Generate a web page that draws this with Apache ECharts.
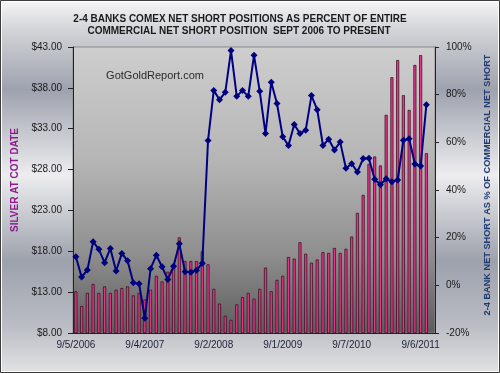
<!DOCTYPE html>
<html>
<head>
<meta charset="utf-8">
<script src="https://cdn.jsdelivr.net/npm/echarts@6/dist/echarts.min.js"></script>
<style>html,body{margin:0;padding:0;background:#fff}#c{width:500px;height:373px}</style>
</head>
<body>
<div id="c"></div>
<script>
// Month categories Sep 2006 .. Nov 2011 (63 slots; last one empty)
var categories = [];
(function(){ var m = 9, y = 2006; for (var k = 0; k < 63; k++) { categories.push(m + '/' + y); m++; if (m > 12) { m = 1; y++; } } })();

var tickLabels = ['9/5/2006', '9/4/2007', '9/2/2008', '9/1/2009', '9/7/2010', '9/6/2011'];

// Silver price at COT date ($)
var silverPrice = [
  13.1, 11.3, 12.9, 14.0, 12.9, 13.7, 12.9, 13.3, 13.5, 13.7,
  12.6, 12.9, 12.1, 13.3, 15.0, 14.3, 15.5, 16.4, 19.7, 16.8,
  16.8, 16.8, 18.0, 16.4, 13.4, 11.6, 10.1, 9.6, 11.5, 12.4,
  12.9, 12.2, 13.4, 16.0, 13.1, 14.5, 15.0, 17.3, 17.1, 19.1,
  17.7, 16.6, 17.0, 17.9, 17.8, 18.4, 17.8, 18.3, 19.8, 22.7,
  24.9, 28.7, 29.6, 28.5, 34.7, 39.3, 41.4, 37.1, 35.3, 40.8,
  42.0, 30.0
];

// 2-4 bank net short as % of commercial net short
var bankShortPct = [
  12.0, 3.5, 6.4, 18.3, 15.1, 9.5, 15.5, 6.0, 13.4, 10.3,
  1.1, 0.7, -13.8, 7.0, 12.6, 7.8, 2.4, 8.0, 17.4, 5.7,
  5.5, 6.3, 9.3, 60.8, 81.8, 77.9, 81.0, 98.5, 79.3, 81.8,
  79.3, 96.5, 81.4, 63.7, 85.2, 76.3, 62.3, 58.7, 67.5, 63.7,
  65.1, 79.6, 73.7, 58.7, 61.3, 56.8, 60.1, 49.1, 51.0, 47.6,
  53.2, 53.3, 44.5, 42.2, 44.7, 43.5, 44.2, 60.9, 61.5, 50.9,
  50.1, 75.8
];

var priceTicks = [8, 43, 5];      // min, max, step
var pctTicks = [-20, 100, 20];

var FONT = "'Liberation Sans', Arial, sans-serif";
var chart = echarts.init(document.getElementById('c'), null, {renderer: 'canvas'});

chart.setOption({
  animation: false,
  textStyle: {fontFamily: FONT},
  graphic: [
    {type: 'rect', z: -100, silent: true, shape: {x: 0, y: 0, width: 500, height: 373},
     style: {fill: new echarts.graphic.LinearGradient(0, 0, 0, 1, [
        {offset: 0, color: '#f6f6f7'},
        {offset: 0.08, color: '#d3d4d8'},
        {offset: 0.24, color: '#9ea2ae'},
        {offset: 0.47, color: '#ededef'},
        {offset: 0.70, color: '#9da1ac'},
        {offset: 0.87, color: '#b9bcc3'},
        {offset: 1, color: '#e2e2e4'}
     ])}},
    {type: 'rect', z: 100, silent: true, shape: {x: 0.5, y: 0.5, width: 499, height: 372},
     style: {fill: 'none', stroke: '#3c3c3c', lineWidth: 1}},
    {type: 'rect', z: 100, silent: true, shape: {x: 1.5, y: 1.5, width: 497, height: 370},
     style: {fill: 'none', stroke: '#ffffff', lineWidth: 1}},
    {type: 'text', z: 100, silent: true, x: 240, y: 19,
     style: {text: '2-4 BANKS COMEX NET SHORT POSITIONS AS PERCENT OF ENTIRE', font: 'bold 10px ' + FONT,
             fill: '#1a1a1a', align: 'center', verticalAlign: 'middle'}},
    {type: 'text', z: 100, silent: true, x: 239, y: 31,
     style: {text: 'COMMERCIAL NET SHORT POSITION  SEPT 2006 TO PRESENT', font: 'bold 10px ' + FONT,
             fill: '#1a1a1a', align: 'center', verticalAlign: 'middle'}},
    {type: 'text', z: 100, silent: true, x: 155, y: 76,
     style: {text: 'GotGoldReport.com', font: '11px ' + FONT, fill: '#2b2b2b', align: 'center', verticalAlign: 'middle'}},
    {type: 'text', z: 100, silent: true, x: 15.5, y: 180, rotation: Math.PI / 2,
     style: {text: 'SILVER AT COT DATE', font: 'bold 10px ' + FONT, fill: '#8e1a8e', align: 'center', verticalAlign: 'middle'}},
    {type: 'text', z: 100, silent: true, x: 487, y: 185, rotation: Math.PI / 2,
     style: {text: '2-4 BANK NET SHORT AS % OF COMMERCIAL NET SHORT', font: 'bold 9.2px ' + FONT, fill: '#1f3b73', align: 'center', verticalAlign: 'middle'}}
  ],
  grid: {
    left: 73, right: 65, top: 47, bottom: 40,
    show: true, borderColor: '#8a8a8a', borderWidth: 1,
    backgroundColor: new echarts.graphic.LinearGradient(0, 0, 0, 1, [
      {offset: 0, color: '#cecece'},
      {offset: 0.4, color: '#b5b5b5'},
      {offset: 0.72, color: '#8f8f8f'},
      {offset: 1, color: '#5c5c5c'}
    ])
  },
  xAxis: {
    type: 'category', data: categories, boundaryGap: true,
    axisLine: {onZero: false, lineStyle: {color: '#222', width: 1}},
    axisTick: {interval: 11, length: 4, lineStyle: {color: '#222'}},
    axisLabel: {interval: 11, margin: 7, fontSize: 10, color: '#1c2236', fontFamily: FONT,
      formatter: function (v, idx) { return tickLabels[Math.round(idx / 12)] || ''; }},
    splitLine: {show: false}
  },
  yAxis: [
    {type: 'value', position: 'left', min: priceTicks[0], max: priceTicks[1], interval: priceTicks[2],
     axisLine: {show: true, lineStyle: {color: '#222'}},
     axisTick: {show: true, length: 5, lineStyle: {color: '#222'}},
     axisLabel: {margin: 11, fontSize: 10, color: '#1a1a1a', fontFamily: FONT,
       formatter: function (v) { return '$' + v.toFixed(2); }},
     splitLine: {show: false}},
    {type: 'value', position: 'right', min: pctTicks[0], max: pctTicks[1], interval: pctTicks[2],
     axisLine: {show: true, lineStyle: {color: '#222'}},
     axisTick: {show: true, length: 4, lineStyle: {color: '#222'}},
     axisLabel: {margin: 11, fontSize: 10, color: '#1a1a1a', fontFamily: FONT, formatter: '{value}%'},
     splitLine: {show: false}}
  ],
  series: [
    {type: 'bar', yAxisIndex: 0, data: silverPrice, barWidth: 3,
     itemStyle: {color: '#e6358a', borderColor: '#2e0818', borderWidth: 0.7}},
    {type: 'line', yAxisIndex: 1, data: bankShortPct, z: 5,
     symbol: 'diamond', symbolSize: 7, showAllSymbol: true,
     lineStyle: {color: '#000080', width: 2},
     itemStyle: {color: '#000080'}}
  ]
});
</script>
</body>
</html>
